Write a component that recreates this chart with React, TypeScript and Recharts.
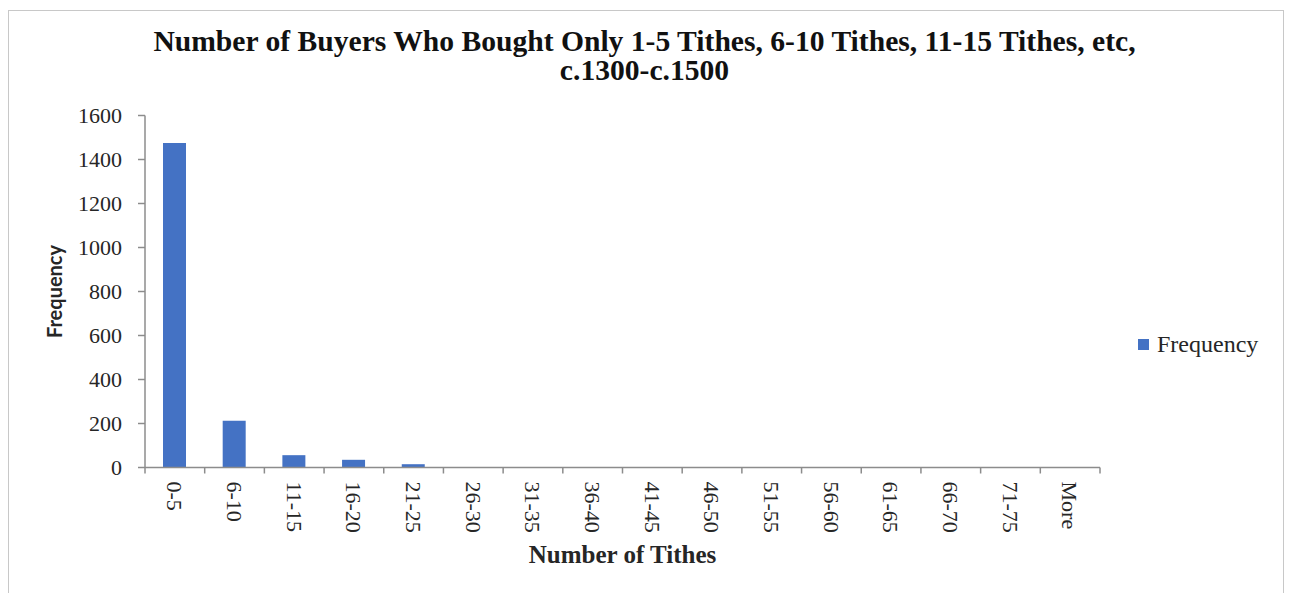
import { BarChart, Bar, XAxis, YAxis, Legend } from "recharts";

const categories = [
  "0-5", "6-10", "11-15", "16-20", "21-25", "26-30", "31-35", "36-40",
  "41-45", "46-50", "51-55", "56-60", "61-65", "66-70", "71-75", "More",
];
const frequency = [1475, 213, 56, 35, 15, 2, 1, 0, 0, 0, 0, 0, 0, 0, 0, 0];
const yTicks = [0, 200, 400, 600, 800, 1000, 1200, 1400, 1600];

const chartData = categories.map((bin, i) => ({ bin, Frequency: frequency[i] }));

const serif = "'Liberation Serif', 'Times New Roman', serif";
const axisColor = "#8c8c8c";
const textColor = "#262626";
const barColor = "#4472C4";

// x ticks: Excel draws marks between categories, labels read top to bottom
function XTick(props: any) {
  const { x, y, payload } = props;
  const half = payload && payload.offset ? payload.offset : 29.85;
  const isLast = payload && payload.value === "More";
  return (
    <g>
      <line x1={x - half} y1={y} x2={x - half} y2={y + 6} stroke={axisColor} strokeWidth={1.5} />
      {isLast && (
        <line x1={x + half} y1={y} x2={x + half} y2={y + 6} stroke={axisColor} strokeWidth={1.5} />
      )}
      <text
        transform={`translate(${x},${y + 14}) rotate(90)`}
        x={0}
        y={0}
        dy="0.35em"
        textAnchor="start"
        fontFamily={serif}
        fontSize={22}
        fill={textColor}
      >
        {payload.value}
      </text>
    </g>
  );
}

function LegendBox() {
  return (
    <div style={{ display: "flex", alignItems: "center", fontFamily: serif, fontSize: 24, color: textColor, lineHeight: "26px" }}>
      <span style={{ width: 11, height: 11, background: barColor, display: "inline-block", marginRight: 8 }} />
      Frequency
    </div>
  );
}

export default function App() {
  return (
    <div style={{ position: "absolute", left: 0, top: 0, width: 1289, height: 593, background: "#fff", overflow: "hidden" }}>
      <div style={{ position: "absolute", left: 8, top: 10, width: 1276, height: 600, border: "1px solid #c8c8c8", boxSizing: "border-box" }} />
      <div
        style={{
          position: "absolute",
          left: 0,
          top: 27,
          width: 1289,
          textAlign: "center",
          fontFamily: serif,
          fontWeight: "bold",
          fontSize: 29.6,
          lineHeight: "29px",
          color: "#111",
        }}
      >
        Number of Buyers Who Bought Only 1-5 Tithes, 6-10 Tithes, 11-15 Tithes, etc,
        <br />
        c.1300-c.1500
      </div>
      <BarChart
        width={1289}
        height={593}
        data={chartData}
        margin={{ top: 115.5, right: 189, bottom: 25.5, left: 0 }}
        style={{ position: "absolute", left: 0, top: 0 }}
      >
        <XAxis
          dataKey="bin"
          interval={0}
          height={100}
          stroke={axisColor}
          strokeWidth={1.5}
          tickLine={false}
          tickSize={0}
          tickMargin={0}
          tick={<XTick />}
          label={{
            content: ({ viewBox }: any) => (
              <text
                x={viewBox.x + viewBox.width / 2}
                y={viewBox.y + 95}
                textAnchor="middle"
                fontFamily={serif}
                fontWeight="bold"
                fontSize={25}
                fill={textColor}
              >
                Number of Tithes
              </text>
            ),
          }}
        />
        <YAxis
          width={145}
          domain={[0, 1600]}
          ticks={yTicks}
          interval={0}
          stroke={axisColor}
          strokeWidth={1.5}
          tickSize={7}
          tickMargin={16}
          tick={{ fontFamily: serif, fontSize: 22, fill: textColor }}
          label={{
            content: ({ viewBox }: any) => {
              const cx = 54;
              const cy = viewBox.y + viewBox.height / 2;
              return (
                <text
                  x={cx}
                  y={cy}
                  transform={`rotate(-90, ${cx}, ${cy})`}
                  textAnchor="middle"
                  dominantBaseline="central"
                  fontFamily="Lato, 'Open Sans', sans-serif"
                  fontWeight="bold"
                  fontSize={20}
                  fill={textColor}
                >
                  Frequency
                </text>
              );
            },
          }}
        />
        <Legend
          layout="horizontal"
          align="center"
          verticalAlign="middle"
          content={<LegendBox />}
          wrapperStyle={{ left: 1138, top: 331, width: 150 }}
        />
        <Bar dataKey="Frequency" fill={barColor} barSize={23} isAnimationActive={false} />
      </BarChart>
    </div>
  );
}
